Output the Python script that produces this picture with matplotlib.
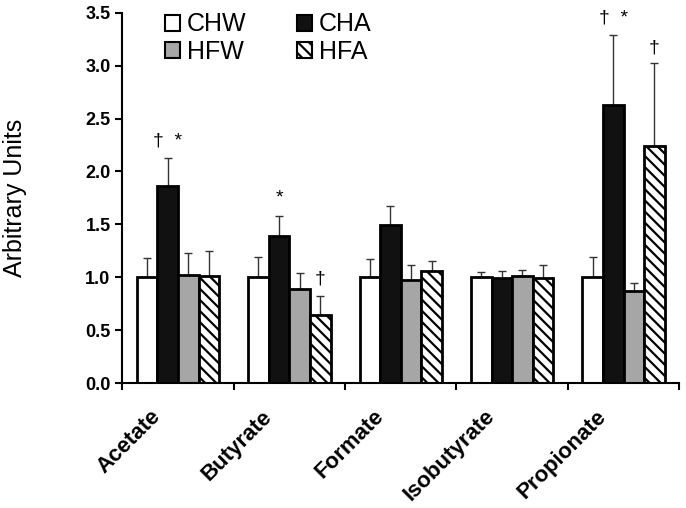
import numpy as np
import matplotlib
matplotlib.use("Agg")
import matplotlib.pyplot as plt
import matplotlib.transforms as mtransforms
from matplotlib.patches import Patch

plt.rcParams['font.family'] = ['Liberation Sans', 'DejaVu Sans']
plt.rcParams['hatch.linewidth'] = 1.6

# --- data ---
categories = ['Acetate', 'Butyrate', 'Formate', 'Isobutyrate', 'Propionate']
series = ['CHW', 'CHA', 'HFW', 'HFA']
chw = [1.00, 1.00, 1.00, 1.00, 1.00]
cha = [1.86, 1.39, 1.49, 0.99, 2.63]
hfw = [1.02, 0.89, 0.97, 1.01, 0.87]
hfa = [1.01, 0.64, 1.06, 0.99, 2.24]
chw_err = [0.18, 0.19, 0.17, 0.045, 0.19]
cha_err = [0.27, 0.19, 0.18, 0.07, 0.66]
hfw_err = [0.21, 0.15, 0.15, 0.06, 0.08]
hfa_err = [0.24, 0.18, 0.09, 0.13, 0.78]
# (category, series index, text, y)
marks = [
    (0, 1, '†  *', 2.29),
    (1, 1, '*', 1.75),
    (1, 3, '†', 0.98),
    (4, 1, '†  *', 3.45),
    (4, 3, '†', 3.17),
]

values = [chw, cha, hfw, hfa]
errors = [chw_err, cha_err, hfw_err, hfa_err]
faces = ['white', '#111111', '#a6a6a6', 'white']
hatches = [None, None, None, '\\\\\\']

fig = plt.figure(figsize=(6.86, 5.08), dpi=100)
ax = fig.add_axes([0.1783, 0.246, 0.8119, 0.729])

x = np.arange(len(categories))
w = 0.185
for i in range(4):
    off = (i - 1.5) * w
    ax.bar(x + off, values[i], w, color=faces[i], edgecolor='black',
           linewidth=2, hatch=hatches[i], zorder=2)
    ax.errorbar(x + off, values[i], yerr=[np.zeros(len(x)), errors[i]],
                fmt='none', ecolor='#333333', elinewidth=1, capsize=3,
                capthick=1, zorder=1)

for c, s, txt, yv in marks:
    ax.text(c + (s - 1.5) * w, yv, txt, ha='center', va='center', fontsize=14)

ax.set_xlim(-0.5, len(categories) - 0.5)
ax.set_ylim(0, 3.5)
ax.set_yticks(np.arange(0, 3.51, 0.5))
ax.set_yticklabels([f'{v:.1f}' for v in np.arange(0, 3.51, 0.5)],
                   fontsize=13, fontweight='bold')
ax.set_xticks(np.arange(-0.5, len(categories), 1.0))
ax.set_xticklabels([])
ax.set_xticks(x, minor=True)
ax.set_xticklabels(categories, minor=True, rotation=45, ha='right',
                   rotation_mode='anchor', fontsize=16, fontweight='bold')
ax.tick_params(axis='x', which='minor', length=0, pad=14)
ax.tick_params(axis='both', which='major', length=5, width=1.5, direction='out')
shift = mtransforms.ScaledTranslation(-0.28, -0.035, fig.dpi_scale_trans)
for lab in ax.get_xticklabels(minor=True):
    lab.set_transform(lab.get_transform() + shift)
for side in ['top', 'right']:
    ax.spines[side].set_visible(False)
for side in ['left', 'bottom']:
    ax.spines[side].set_linewidth(1.5)

ax.set_ylabel('Arbitrary Units', fontsize=18)
ax.yaxis.set_label_coords(-0.172, 0.5)

handles = [Patch(facecolor=faces[i], edgecolor='black', linewidth=1.5,
                 hatch=hatches[i], label=series[i]) for i in range(4)]
order = [0, 2, 1, 3]
fig.legend([handles[i] for i in order], [series[i] for i in order],
           ncol=2, frameon=False, fontsize=18, loc='upper left',
           bbox_to_anchor=(0.218, 1.005), handlelength=0.6, handleheight=0.6,
           handletextpad=0.3, labelspacing=0.15, columnspacing=2.0,
           borderaxespad=0.2)

fig.savefig('out.png', dpi=100)
